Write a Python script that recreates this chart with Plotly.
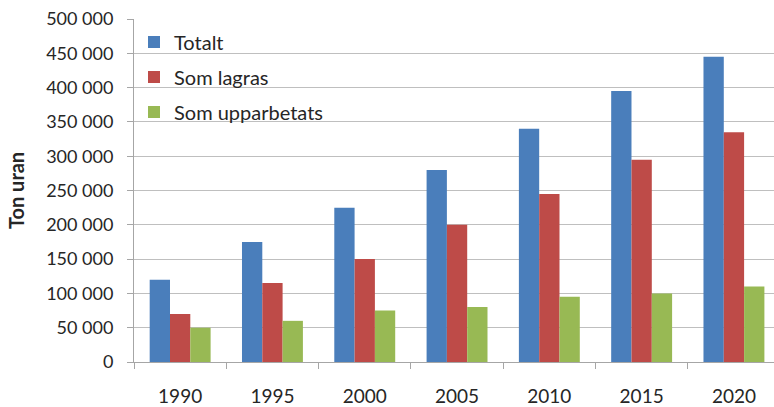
import plotly.graph_objects as go

years = ["1990", "1995", "2000", "2005", "2010", "2015", "2020"]
totalt = [120000, 175000, 225000, 280000, 340000, 395000, 445000]
som_lagras = [70000, 115000, 150000, 200000, 245000, 295000, 335000]
som_upparbetats = [50000, 60000, 75000, 80000, 95000, 100000, 110000]

series = [
    ("Totalt", totalt, "#4A7EBB"),
    ("Som lagras", som_lagras, "#BE4B48"),
    ("Som upparbetats", som_upparbetats, "#98B954"),
]

fig = go.Figure()
for name, vals, color in series:
    fig.add_trace(go.Bar(
        x=years, y=vals, name=name, legendgroup=name,
        marker=dict(color=color, line=dict(width=0)),
    ))

font_family = "Lato, Open Sans, sans-serif"
fig.update_layout(
    width=774, height=407,
    margin=dict(l=134, r=0, t=19, b=45),
    paper_bgcolor="white", plot_bgcolor="white",
    barmode="group", bargap=0.34, bargroupgap=0,
    separators=", ",
    font=dict(family=font_family, size=17, color="#262626"),
    showlegend=True,
    legend=dict(
        x=0.0, y=0.99, xanchor="left", yanchor="top",
        bgcolor="rgba(0,0,0,0)", font=dict(size=20, family=font_family, color="#262626"),
        tracegroupgap=6, itemwidth=30,
    ),
    xaxis=dict(
        type="category", range=[-0.5, 6.434],
        showline=True, linecolor="#A6A6A6", linewidth=1,
        ticks="outside", tickson="boundaries", ticklen=6, tickcolor="#A6A6A6",
        showgrid=False, tickfont=dict(size=19), ticklabelstandoff=17,
    ),
    yaxis=dict(
        range=[0, 500000], dtick=50000, tickformat=",d",
        showline=True, linecolor="#A6A6A6", linewidth=1,
        ticks="outside", ticklen=6, tickcolor="#A6A6A6",
        showgrid=True, gridcolor="#BFBFBF", gridwidth=1,
        zeroline=False, tickfont=dict(size=18), ticklabelstandoff=10,
        title=dict(text="<b>Ton uran</b>", font=dict(size=20), standoff=16),
    ),
)

fig.write_html("out.html")
